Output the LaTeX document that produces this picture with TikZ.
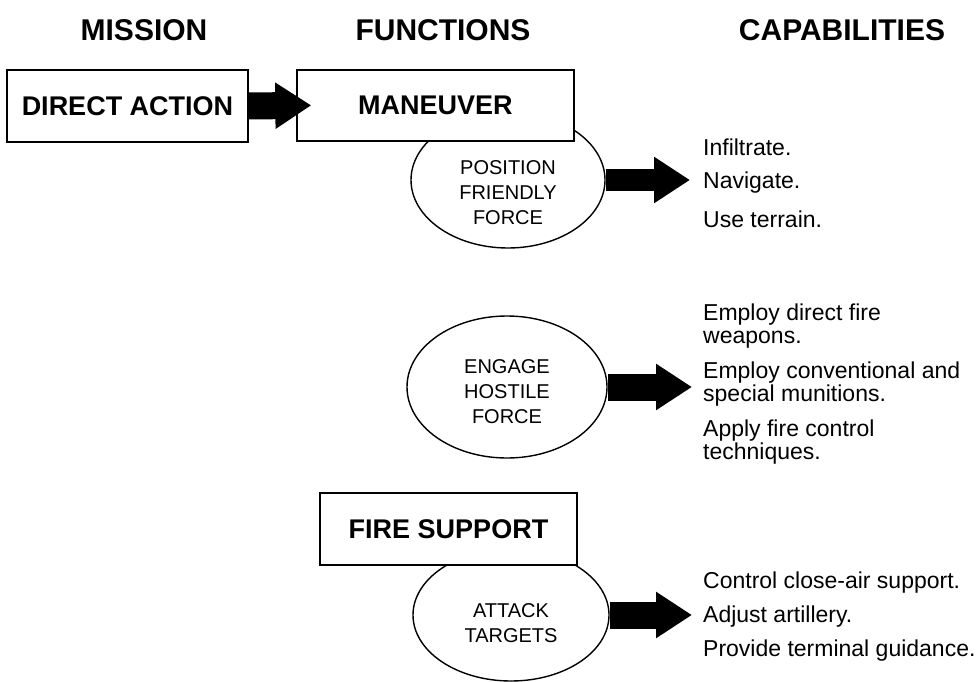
\documentclass[tikz,border=0pt]{standalone}
\usepackage{fontspec}
\setmainfont{Liberation Sans}
\usetikzlibrary{arrows.meta,positioning,shapes.geometric}

\begin{document}
\begin{tikzpicture}[
  colhead/.style  = {font=\fontsize{30}{32}\selectfont\bfseries},
  funcbox/.style  = {draw, fill=white, line width=1.4pt, inner sep=0pt, font=\fontsize{27}{30}\selectfont\bfseries},
  taskoval/.style = {draw, fill=white, ellipse, line width=1.4pt, inner sep=0pt},
  ovaltext/.style = {align=center, inner sep=0pt, font=\fontsize{20}{25}\selectfont},
  captext/.style  = {anchor=west, align=left, inner sep=0pt, font=\fontsize{23}{23}\selectfont},
  fatlink/.style  = {line width=27pt, -{Triangle[length=36pt,width=44pt]}},
  x=1pt, y=-1pt,
]
  \useasboundingbox (0,0) rectangle (979,682);

  \node[colhead] (hmis) at (144,30) {MISSION};
  \node[colhead] (hfun) at (443,30) {FUNCTIONS};
  \node[colhead] (hcap) at (842,30) {CAPABILITIES};

  \node[taskoval, minimum width=194pt, minimum height=136pt,
        label={[ovaltext, yshift=-13pt]center:{POSITION\\FRIENDLY\\FORCE}}] (posit) at (508,180) {};
  \node[taskoval, minimum width=200pt, minimum height=142pt,
        label={[ovaltext, yshift=-5pt]center:{ENGAGE\\HOSTILE\\FORCE}}] (engage) at (507,387) {};
  \node[taskoval, minimum width=196pt, minimum height=132pt,
        label={[ovaltext, yshift=-8pt]center:{ATTACK\\TARGETS}}] (attack) at (511,615) {};

  \node[funcbox, minimum width=241pt, minimum height=72pt] (direct) at (127.5,106) {DIRECT ACTION};
  \node[funcbox, minimum width=277pt, minimum height=71pt] (maneu) at (435.5,105.5) {MANEUVER};
  \node[funcbox, minimum width=257pt, minimum height=72pt] (firesup) at (448.5,529) {FIRE SUPPORT};

  \node[captext] (infil) at (703,147) {Infiltrate.};
  \node[captext] (navig) at (703,183) {Navigate.};
  \node[captext] (terra) at (703,219) {Use terrain.};
  \node[captext] (dfire) at (703,326) {Employ direct fire\\weapons.};
  \node[captext] (munit) at (703,384) {Employ conventional and\\special munitions.};
  \node[captext] (fctrl) at (703,442) {Apply fire control\\techniques.};
  \node[captext] (cas)   at (703,583) {Control close-air support.};
  \node[captext] (artil) at (703,617) {Adjust artillery.};
  \node[captext] (guide) at (703,651) {Provide terminal guidance.};

  \draw[fatlink, shorten >=-15pt] (direct.east) -- (maneu.west);
  \draw[fatlink, line width=22pt, shorten >=13pt] (posit.east) -- (posit.east -| navig.west);
  \draw[fatlink, shorten >=11pt] (engage.east) -- (engage.east -| munit.west);
  \draw[fatlink, shorten >=11pt] (attack.east) -- (attack.east -| artil.west);
\end{tikzpicture}
\end{document}
